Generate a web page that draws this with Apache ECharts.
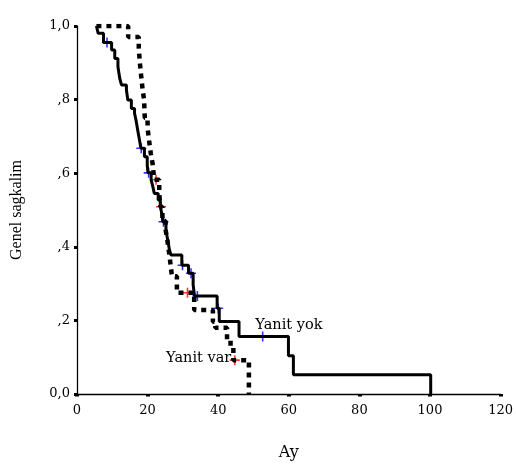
<!DOCTYPE html>
<html><head><meta charset="utf-8">
<script src="https://cdn.jsdelivr.net/npm/echarts@6/dist/echarts.min.js"></script>
<style>html,body{margin:0;padding:0;background:#fff}#c{width:516px;height:470px}</style>
</head><body><div id="c"></div>
<script>
// Kaplan-Meier estimates: event time (months) and survival after that event
const yokTime = [5.5, 6.0, 7.5, 9.8, 10.7, 11.6, 12.1, 12.6, 14.0, 14.4, 15.4, 16.3, 16.8, 17.2, 17.7, 18.1, 19.1, 19.9, 20.1, 21.0, 21.5, 21.9, 23.0, 23.6, 24.1, 24.3, 25.2, 25.7, 26.2, 26.6, 29.7, 31.6, 32.9, 33.3, 39.7, 40.3, 45.9, 59.9, 61.3, 100.2];
const yokSurv = [1.0, 0.98, 0.955, 0.935, 0.912, 0.889, 0.858, 0.840, 0.826, 0.799, 0.776, 0.763, 0.740, 0.717, 0.690, 0.668, 0.645, 0.622, 0.601, 0.582, 0.563, 0.545, 0.527, 0.509, 0.487, 0.468, 0.446, 0.418, 0.391, 0.378, 0.350, 0.328, 0.297, 0.266, 0.233, 0.197, 0.156, 0.104, 0.052, 0.0];
const varTime = [5.5, 14.5, 17.5, 17.8, 18.2, 18.6, 19.0, 19.2, 20.0, 20.4, 20.9, 21.4, 21.9, 23.3, 23.6, 24.2, 25.1, 25.6, 26.0, 26.4, 26.9, 28.3, 33.2, 38.5, 39.2, 42.5, 43.5, 44.3, 48.7];
const varSurv = [1.0, 0.97, 0.94, 0.90, 0.862, 0.826, 0.80, 0.75, 0.722, 0.69, 0.654, 0.627, 0.582, 0.545, 0.509, 0.47, 0.446, 0.418, 0.39, 0.36, 0.32, 0.275, 0.228, 0.196, 0.18, 0.147, 0.129, 0.092, 0.0];

// censored observations
const yokCensTime = [8.5, 18.2, 20.3, 24.5, 29.9, 32.3, 34.1, 40.0, 52.6];
const yokCensSurv = [0.955, 0.668, 0.601, 0.468, 0.350, 0.328, 0.266, 0.233, 0.156];
const varCensTime = [22.4, 23.8, 31.3, 44.7];
const varCensSurv = [0.582, 0.509, 0.275, 0.092];

const yTickLabels = ['0,0', ',2', ',4', ',6', ',8', '1,0'];
const groupNames = ['Yanit yok', 'Yanit var'];

const zip = (a, b) => a.map((v, i) => [v, b[i]]);
const cross = 'path://M5,0V10M0,5H10';
const serif = 'DejaVu Serif';

const chart = echarts.init(document.getElementById('c'), null, {renderer: 'canvas'});
chart.setOption({
  animation: false,
  backgroundColor: '#fff',
  grid: {left: 77, right: 12, top: 26, bottom: 76, containLabel: false},
  xAxis: {
    type: 'value', min: 0, max: 120, interval: 20,
    name: 'Ay', nameLocation: 'middle', nameGap: 51,
    nameTextStyle: {fontFamily: serif, fontSize: 16, color: '#000'},
    axisLine: {lineStyle: {color: '#000', width: 1.3}},
    axisTick: {length: 2.5, lineStyle: {color: '#000', width: 4}},
    axisLabel: {fontFamily: serif, fontSize: 13, color: '#000', margin: 10},
    splitLine: {show: false}
  },
  yAxis: {
    type: 'value', min: 0, max: 1, interval: 0.2,
    name: 'Genel sagkalim', nameLocation: 'middle', nameGap: 52, nameRotate: 90,
    nameTextStyle: {fontFamily: 'Liberation Serif', fontSize: 16, color: '#000'},
    axisLine: {lineStyle: {color: '#000', width: 1.3}},
    axisTick: {length: 3, lineStyle: {color: '#000', width: 3}},
    axisLabel: {fontFamily: serif, fontSize: 13, color: '#000', margin: 7,
      formatter: v => yTickLabels[Math.round(v / 0.2)]},
    splitLine: {show: false}
  },
  series: [
    {
      name: groupNames[1], type: 'line', step: 'end', symbol: 'none', silent: true,
      data: zip(varTime, varSurv),
      lineStyle: {color: '#000', width: 4.5, type: [5, 5], cap: 'butt'},
      markPoint: {
        silent: true, symbol: 'circle', symbolSize: 0,
        data: [{coord: [25.2, 0.097], label: {show: true, position: 'right', distance: 0,
          formatter: groupNames[1], fontFamily: serif, fontSize: 14.5, color: '#000'}}]
      }
    },
    {
      name: groupNames[0], type: 'line', step: 'end', symbol: 'none', silent: true,
      data: zip(yokTime, yokSurv),
      lineStyle: {color: '#000', width: 3},
      markPoint: {
        silent: true, symbol: 'circle', symbolSize: 0,
        data: [{coord: [50.5, 0.188], label: {show: true, position: 'right', distance: 0,
          formatter: groupNames[0], fontFamily: serif, fontSize: 14.5, color: '#000'}}]
      }
    },
    {
      type: 'scatter', symbol: cross, symbolSize: 10, silent: true,
      data: zip(yokCensTime, yokCensSurv),
      itemStyle: {color: 'rgba(0,0,0,0)', borderColor: '#0000ff', borderWidth: 1.6}
    },
    {
      type: 'scatter', symbol: cross, symbolSize: 10, silent: true,
      data: zip(varCensTime, varCensSurv),
      itemStyle: {color: 'rgba(0,0,0,0)', borderColor: '#ff0000', borderWidth: 1.6}
    }
  ]
});
</script>
</body></html>
